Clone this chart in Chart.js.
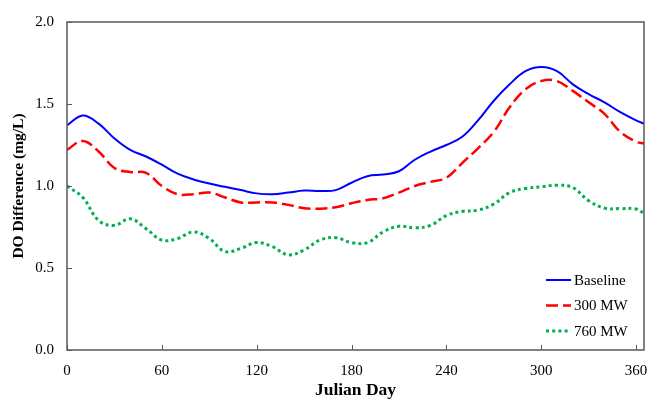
<!DOCTYPE html>
<html>
<head>
<meta charset="utf-8">
<script src="https://cdn.jsdelivr.net/npm/chart.js@4/dist/chart.umd.min.js"></script>
<style>
  html, body { margin: 0; padding: 0; background: #fff; }
  #wrap { width: 662px; height: 401px; }
</style>
</head>
<body>
<div id="wrap"><canvas id="dochart"></canvas></div>
<script>
const days = [0, 10, 20, 30, 40, 50, 60, 70, 80, 90, 100, 110, 120, 130, 140, 150, 160, 170, 180,
  190, 200, 210, 220, 230, 240, 250, 260, 270, 280, 290, 300, 310, 320, 330, 340, 350, 360, 365];

const baseline = [1.37, 1.43, 1.38, 1.29, 1.22, 1.18, 1.13, 1.075, 1.04, 1.015, 0.995, 0.975, 0.955,
  0.95, 0.96, 0.972, 0.97, 0.975, 1.02, 1.06, 1.07, 1.09, 1.16, 1.21, 1.25, 1.30, 1.40, 1.52, 1.62,
  1.70, 1.725, 1.70, 1.62, 1.56, 1.51, 1.45, 1.40, 1.38];

const mw300 = [1.22, 1.275, 1.21, 1.11, 1.085, 1.08, 1.00, 0.95, 0.95, 0.96, 0.93, 0.90, 0.90, 0.90,
  0.885, 0.865, 0.862, 0.87, 0.895, 0.915, 0.925, 0.96, 1.00, 1.025, 1.05, 1.14, 1.23, 1.33, 1.48,
  1.59, 1.64, 1.64, 1.58, 1.51, 1.44, 1.33, 1.27, 1.26];

const mw760 = [1.0, 0.93, 0.79, 0.76, 0.80, 0.74, 0.67, 0.68, 0.72, 0.68, 0.60, 0.62, 0.655, 0.63,
  0.58, 0.61, 0.67, 0.685, 0.655, 0.655, 0.72, 0.755, 0.745, 0.76, 0.82, 0.845, 0.853, 0.89, 0.96,
  0.985, 0.995, 1.005, 0.99, 0.91, 0.865, 0.862, 0.86, 0.833];

const seriesLabels = ['Baseline', '300 MW', '760 MW'];
const xTicks = [0, 60, 120, 180, 240, 300, 360];
const yTicks = [0, 0.5, 1.0, 1.5, 2.0];

const serif = '"Liberation Serif", "Times New Roman", serif';
const axisColor = '#595959';

function pts(vals) {
  return days.map((d, i) => ({ x: d, y: vals[i] }));
}

// frame, inward tick marks and the legend in the lower right corner
const frame = {
  id: 'frame',
  afterDraw(chart) {
    const ctx = chart.ctx;
    const a = chart.chartArea;
    const xs = chart.scales.x, ys = chart.scales.y;
    ctx.save();
    ctx.strokeStyle = axisColor;
    ctx.lineWidth = 1.5;
    ctx.strokeRect(a.left, a.top, a.right - a.left, a.bottom - a.top);
    ctx.lineWidth = 1;
    ctx.beginPath();
    xTicks.forEach(t => {
      const px = Math.round(xs.getPixelForValue(t)) + 0.5;
      ctx.moveTo(px, a.bottom);
      ctx.lineTo(px, a.bottom - 5);
    });
    yTicks.forEach(t => {
      const py = Math.round(ys.getPixelForValue(t)) + 0.5;
      ctx.moveTo(a.left, py);
      ctx.lineTo(a.left + 5, py);
    });
    ctx.stroke();

    ctx.font = '15px ' + serif;
    ctx.textBaseline = 'middle';
    ctx.fillStyle = '#000';
    chart.data.datasets.forEach((ds, i) => {
      const y = a.bottom - 70 + i * 25.5;
      const x0 = a.right - 98;
      ctx.strokeStyle = ds.borderColor;
      ctx.lineWidth = ds.borderWidth;
      ctx.setLineDash(ds.borderDash || []);
      ctx.beginPath();
      ctx.moveTo(x0, y);
      ctx.lineTo(x0 + 25, y);
      ctx.stroke();
      ctx.setLineDash([]);
      ctx.fillText(ds.label, x0 + 28, y + 1);
    });
    ctx.restore();
  }
};

new Chart(document.getElementById('dochart'), {
  type: 'line',
  data: {
    datasets: [
      { label: seriesLabels[0], data: pts(baseline), borderColor: '#0000ff', borderWidth: 2 },
      { label: seriesLabels[1], data: pts(mw300), borderColor: '#ff0000', borderWidth: 2.5, borderDash: [12, 5] },
      { label: seriesLabels[2], data: pts(mw760), borderColor: '#00b050', borderWidth: 3, borderDash: [3, 3.2] }
    ]
  },
  options: {
    responsive: true,
    maintainAspectRatio: false,
    animation: false,
    layout: { padding: { top: 14, right: 18, left: 0, bottom: 0 } },
    elements: {
      point: { radius: 0 },
      line: { tension: 0.4, fill: false, borderCapStyle: 'butt' }
    },
    plugins: { legend: { display: false }, tooltip: { enabled: false } },
    scales: {
      x: {
        type: 'linear',
        min: 0,
        max: 365,
        afterBuildTicks: s => { s.ticks = xTicks.map(v => ({ value: v })); },
        afterFit: s => { s.height = 51; },
        grid: { display: false, drawTicks: false },
        border: { display: false },
        ticks: { padding: 12, color: '#000', font: { family: serif, size: 15 } },
        title: {
          display: true,
          text: 'Julian Day',
          color: '#000',
          font: { family: serif, size: 17.5, weight: 'bold' },
          padding: { top: 0, bottom: 0 }
        }
      },
      y: {
        min: 0,
        max: 2,
        afterBuildTicks: s => { s.ticks = yTicks.map(v => ({ value: v })); },
        afterFit: s => { s.width = 67; },
        grid: { display: false, drawTicks: false },
        border: { display: false },
        ticks: {
          padding: 13,
          color: '#000',
          font: { family: serif, size: 15 },
          callback: v => v.toFixed(1)
        },
        title: {
          display: true,
          text: 'DO Difference (mg/L)',
          color: '#000',
          font: { family: serif, size: 15.5, weight: 'bold' },
          padding: { top: 10, bottom: 0 }
        }
      }
    }
  },
  plugins: [frame]
});
</script>
</body>
</html>
